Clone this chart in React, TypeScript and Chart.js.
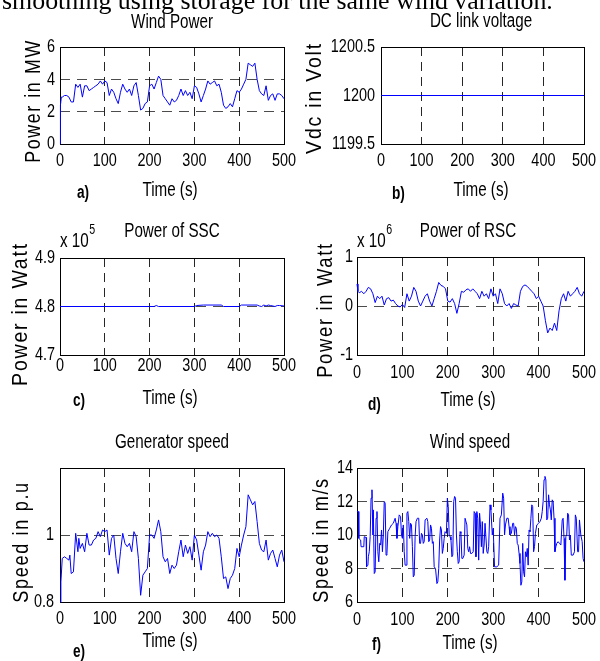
import React, { useEffect, useRef } from 'react';
import { Chart, registerables } from 'chart.js';
Chart.register(...registerables);

const W = 600;
const H = 661;
const SX = 0.76;
const SANS = '"Liberation Sans", Arial, Helvetica, sans-serif';
const SERIF = '"Liberation Serif", "Times New Roman", serif';

// ---------- data ----------
const X_TICKS = [0, 100, 200, 300, 400, 500];

const windPowerT = [0, 1, 3, 5, 10, 15, 20, 25, 30, 35, 40, 45, 50, 55, 60, 65, 70, 75, 80, 85, 90, 95, 100, 105, 110, 115, 120, 125, 130, 135, 140, 145, 150, 155, 160, 165, 170, 175, 180, 185, 190, 195, 200, 205, 210, 215, 220, 225, 230, 235, 240, 245, 250, 255, 260, 265, 270, 275, 280, 285, 290, 295, 300, 305, 310, 315, 320, 325, 330, 335, 340, 345, 350, 355, 360, 365, 370, 375, 380, 385, 390, 395, 400, 405, 410, 415, 420, 425, 430, 435, 440, 445, 450, 455, 460, 465, 470, 475, 480, 485, 490, 495, 500];
const windPowerMW = [0, 2.4, 2.9, 2.9, 3.0, 3.0, 2.9, 2.6, 2.6, 3.7, 3.5, 3.7, 2.9, 3.6, 3.6, 3.3, 3.4, 3.5, 3.6, 3.7, 3.9, 3.7, 3.9, 3.8, 3.0, 3.4, 3.2, 2.8, 2.5, 3.2, 3.7, 3.4, 3.2, 3.4, 3.0, 3.6, 3.8, 3.0, 2.1, 2.2, 2.5, 2.6, 3.6, 3.7, 3.4, 3.8, 4.2, 4.0, 3.0, 2.8, 2.6, 2.4, 2.8, 2.6, 2.7, 3.0, 3.4, 3.0, 3.3, 3.0, 3.2, 2.8, 3.6, 3.5, 3.1, 2.6, 3.0, 3.4, 3.9, 3.7, 3.8, 3.9, 3.6, 3.7, 3.2, 2.4, 2.2, 2.3, 2.5, 2.3, 2.8, 3.3, 3.2, 3.4, 3.7, 4.0, 5.0, 4.9, 4.8, 5.0, 4.0, 3.3, 3.1, 3.0, 3.6, 2.7, 3.0, 3.1, 2.7, 3.1, 3.1, 3.0, 2.8];

const dcLinkT = [0, 500];
const dcLinkV = [1200, 1200];

const sscT = [0, 100, 200, 210, 215, 220, 300, 305, 320, 360, 365, 400, 405, 440, 445, 450, 455, 460, 465, 470, 480, 485, 490, 500];
const sscW = [4.8, 4.8, 4.8, 4.8, 4.802, 4.8, 4.8, 4.802, 4.803, 4.803, 4.8, 4.8, 4.803, 4.803, 4.801, 4.8, 4.803, 4.801, 4.803, 4.802, 4.8, 4.802, 4.802, 4.801];

const rscT = [0, 2, 5, 10, 15, 20, 25, 30, 35, 40, 45, 50, 55, 60, 65, 70, 75, 80, 85, 90, 95, 100, 105, 110, 115, 120, 125, 130, 135, 140, 145, 150, 155, 160, 165, 170, 175, 180, 185, 190, 195, 200, 205, 210, 215, 220, 225, 230, 235, 240, 245, 250, 255, 260, 265, 270, 275, 280, 285, 290, 295, 300, 305, 310, 315, 320, 325, 330, 335, 340, 345, 350, 355, 360, 365, 370, 375, 380, 385, 390, 395, 400, 405, 410, 415, 420, 425, 430, 435, 440, 445, 450, 455, 460, 465, 470, 475, 480, 485, 490, 495, 500];
const rscW = [0.45, 0.3, 0.27, 0.3, 0.25, 0.3, 0.38, 0.35, 0.25, 0.07, 0.2, 0.15, 0.2, 0.02, 0.15, 0.17, 0.1, 0.12, 0.05, 0.0, -0.02, 0.03, -0.03, 0.25, 0.1, 0.2, 0.38, 0.3, 0.1, 0.0, 0.1, 0.2, 0.25, 0.1, 0.0, 0.15, 0.3, 0.48, 0.42, 0.4, 0.35, 0.1, 0.08, 0.15, 0.05, -0.15, 0.05, 0.3, 0.28, 0.33, 0.35, 0.3, 0.35, 0.3, 0.25, 0.15, 0.3, 0.2, 0.25, 0.15, 0.35, 0.2, 0.25, 0.05, 0.35, 0.25, 0.05, 0.0, 0.05, -0.05, 0.05, 0.02, 0.0, 0.3, 0.4, 0.43, 0.4, 0.35, 0.3, 0.25, 0.15, 0.2, 0.1, 0.0, -0.3, -0.55, -0.45, -0.5, -0.35, -0.5, -0.1, 0.15, 0.25, 0.1, 0.3, 0.2, 0.25, 0.3, 0.38, 0.25, 0.2, 0.3];

const genSpeedT = [0, 2, 5, 10, 15, 20, 22, 25, 30, 35, 40, 42, 45, 50, 55, 60, 65, 70, 75, 80, 85, 90, 95, 100, 105, 110, 115, 120, 125, 130, 135, 140, 145, 150, 155, 160, 165, 170, 175, 180, 185, 190, 195, 200, 205, 210, 215, 220, 225, 230, 235, 240, 245, 250, 255, 260, 265, 270, 275, 280, 285, 290, 295, 300, 305, 310, 315, 320, 325, 330, 335, 340, 345, 350, 355, 360, 365, 370, 375, 380, 385, 390, 395, 400, 405, 410, 415, 420, 425, 430, 435, 440, 445, 450, 455, 460, 465, 470, 475, 480, 485, 490, 495, 500];
const genSpeedPu = [0.8, 0.86, 0.93, 0.935, 0.93, 0.925, 0.94, 0.885, 0.89, 1.005, 0.95, 0.99, 0.96, 0.975, 0.95, 1.005, 0.97, 0.97, 0.985, 0.99, 1.01, 0.995, 1.015, 1.01, 1.015, 0.94, 0.99, 1.0, 0.93, 0.885, 0.95, 1.005, 0.975, 0.965, 0.975, 0.95, 1.01, 0.995, 0.93, 0.82, 0.88, 0.89, 0.9, 1.0, 1.0, 0.99, 1.015, 1.045, 1.01, 0.935, 0.92, 0.93, 0.885, 0.91, 0.9, 0.91, 0.95, 0.985, 0.935, 0.97, 0.945, 0.965, 0.925, 1.0, 0.985, 0.94, 0.895, 0.95, 0.97, 1.01, 0.995, 1.005, 0.995, 1.0, 0.99, 0.935, 0.87, 0.875, 0.84, 0.87, 0.88, 0.9, 0.96, 0.935, 0.97, 1.0, 1.025, 1.12, 1.105, 1.09, 1.1, 1.04, 0.975, 0.955, 0.95, 0.985, 0.925, 0.945, 0.955, 0.93, 0.905, 0.94, 0.955, 0.92];

const windSpeedT = [0, 3, 4, 8, 9, 15, 16, 20, 21, 24, 25, 27, 29, 31, 33, 35, 36, 38, 40, 42, 44, 46, 48, 50, 52, 54, 56, 58, 60, 62, 64, 66, 68, 72, 76, 80, 84, 86, 88, 90, 93, 96, 98, 100, 102, 104, 106, 108, 110, 112, 114, 116, 118, 120, 122, 124, 126, 128, 130, 133, 136, 138, 140, 142, 144, 146, 148, 150, 154, 156, 158, 160, 162, 164, 166, 168, 170, 173, 176, 178, 180, 182, 184, 186, 188, 190, 192, 194, 197, 199, 201, 203, 205, 207, 209, 211, 213, 215, 217, 219, 221, 223, 225, 227, 229, 231, 233, 236, 238, 240, 242, 244, 246, 248, 250, 253, 256, 258, 260, 262, 264, 266, 268, 270, 272, 274, 276, 278, 280, 282, 284, 286, 288, 290, 293, 295, 298, 300, 303, 308, 312, 315, 318, 321, 323, 325, 327, 330, 333, 335, 337, 340, 343, 345, 347, 349, 351, 353, 355, 357, 359, 361, 363, 365, 367, 369, 371, 373, 375, 377, 379, 381, 383, 385, 387, 389, 391, 393, 396, 400, 403, 406, 408, 410, 412, 414, 416, 418, 420, 422, 424, 426, 428, 430, 432, 434, 436, 438, 440, 443, 446, 449, 452, 454, 456, 458, 460, 462, 464, 466, 468, 470, 472, 476, 479, 481, 483, 486, 488, 490, 493, 496, 498, 500];
const windSpeedMs = [11.4, 11.4, 9.8, 9.7, 9.3, 9.3, 9.9, 9.85, 8.1, 8.2, 8.7, 9.0, 9.9, 12.2, 12.7, 10.0, 11.5, 7.7, 7.8, 11.0, 11.4, 9.0, 8.4, 9.5, 9.4, 10.3, 9.0, 10.0, 12.0, 11.9, 8.8, 8.9, 10.2, 10.4, 10.6, 10.7, 11.0, 10.7, 9.8, 10.5, 11.2, 11.1, 10.0, 9.8, 10.6, 9.0, 8.2, 8.2, 11.3, 11.4, 10.8, 9.8, 10.7, 10.6, 9.3, 7.5, 7.6, 9.9, 10.8, 11.0, 11.0, 9.5, 9.5, 10.1, 10.0, 9.5, 9.6, 10.9, 11.0, 10.8, 9.6, 9.7, 10.6, 10.4, 9.5, 9.6, 8.1, 8.0, 7.1, 7.2, 8.0, 9.7, 10.5, 10.3, 8.9, 9.2, 9.8, 10.2, 10.1, 12.2, 11.7, 10.0, 9.9, 9.7, 8.7, 8.8, 12.0, 12.3, 12.2, 10.0, 9.0, 8.3, 8.4, 10.2, 10.1, 8.6, 8.6, 8.8, 11.0, 11.0, 10.6, 9.2, 9.0, 9.3, 8.9, 8.9, 9.0, 11.4, 11.3, 8.7, 11.4, 11.0, 8.5, 11.3, 10.6, 9.3, 10.8, 8.9, 9.4, 10.7, 10.7, 9.0, 8.9, 9.3, 11.8, 11.5, 10.0, 10.4, 8.1, 8.1, 8.2, 11.0, 11.2, 12.5, 12.2, 10.0, 10.6, 11.0, 11.0, 10.5, 10.0, 10.1, 10.7, 10.7, 10.0, 10.5, 10.4, 9.5, 9.4, 8.9, 8.3, 7.0, 7.2, 9.5, 7.8, 7.5, 9.0, 8.7, 9.2, 8.2, 10.3, 10.2, 11.0, 11.8, 11.7, 9.0, 9.3, 10.1, 10.6, 10.7, 10.8, 11.0, 11.4, 12.0, 13.3, 13.5, 13.3, 10.9, 11.0, 12.4, 11.8, 11.5, 10.9, 12.1, 12.0, 11.0, 9.0, 9.3, 9.5, 9.6, 9.5, 9.4, 10.9, 11.0, 9.8, 7.3, 9.9, 10.0, 11.3, 11.2, 9.7, 10.0, 8.8, 8.8, 9.0, 11.2, 11.0, 9.0, 9.0, 10.9, 10.0, 9.6, 8.6, 8.4];

// ---------- panel layout ----------
type Panel = {
  key: string;
  box: [number, number, number, number];
  xs: number[];
  ys: number[];
  yMin: number;
  yMax: number;
  yTicks: number[];
  yLabels: string[];
  yPad: number;
  xPad: number;
  title: string;
  titlePos: [number, number];
  yTitle: string;
  yTitlePos: [number, number];
  yTitleLen: number;
  xTitlePos: [number, number];
  tag: string;
  tagPos: [number, number];
  exp?: [number, number, string];
  sentence?: boolean;
  hideGridAt?: number;
};

const PANELS: Panel[] = [
  {
    key: 'a', box: [60, 47, 284, 144], xs: windPowerT, ys: windPowerMW,
    yMin: 0, yMax: 6, yTicks: [0, 2, 4, 6], yLabels: ['0', '2', '4', '6'], yPad: 5, xPad: 7,
    title: 'Wind Power', titlePos: [172, 28], yTitle: 'Power in MW', yTitlePos: [32, 101], yTitleLen: 122,
    xTitlePos: [170, 196], tag: 'a)', tagPos: [77, 198], sentence: true,
  },
  {
    key: 'b', box: [381, 47, 584, 144], xs: dcLinkT, ys: dcLinkV,
    yMin: 1199.5, yMax: 1200.5, yTicks: [1199.5, 1200, 1200.5], yLabels: ['1199.5', '1200', '1200.5'], yPad: 6, xPad: 7,
    title: 'DC link voltage', titlePos: [481, 27], yTitle: 'Vdc in Volt', yTitlePos: [313, 98], yTitleLen: 110,
    xTitlePos: [481, 196], tag: 'b)', tagPos: [392, 199], hideGridAt: 1200,
  },
  {
    key: 'c', box: [60, 258, 284, 355], xs: sscT, ys: sscW,
    yMin: 4.7, yMax: 4.9, yTicks: [4.7, 4.8, 4.9], yLabels: ['4.7', '4.8', '4.9'], yPad: 5, xPad: 1,
    title: 'Power of SSC', titlePos: [172, 237], yTitle: 'Power in Watt', yTitlePos: [19, 314], yTitleLen: 142,
    xTitlePos: [170, 404], tag: 'c)', tagPos: [73, 406], exp: [60, 247, '5'],
  },
  {
    key: 'd', box: [357, 257, 584, 355], xs: rscT, ys: rscW,
    yMin: -1, yMax: 1, yTicks: [-1, 0, 1], yLabels: ['-1', '0', '1'], yPad: 4, xPad: 8,
    title: 'Power of RSC', titlePos: [468, 237], yTitle: 'Power in Watt', yTitlePos: [324, 310], yTitleLen: 134,
    xTitlePos: [468, 406], tag: 'd)', tagPos: [368, 410], exp: [357, 247, '6'],
  },
  {
    key: 'e', box: [60, 468, 284, 602], xs: genSpeedT, ys: genSpeedPu,
    yMin: 0.8, yMax: 1.2, yTicks: [0.8, 1], yLabels: ['0.8', '1'], yPad: 6, xPad: 7,
    title: 'Generator speed', titlePos: [172, 448], yTitle: 'Speed in p.u', yTitlePos: [20, 542], yTitleLen: 120,
    xTitlePos: [170, 647], tag: 'e)', tagPos: [73, 657],
  },
  {
    key: 'f', box: [357, 468, 584, 602], xs: windSpeedT, ys: windSpeedMs,
    yMin: 6, yMax: 14, yTicks: [6, 8, 10, 12, 14], yLabels: ['6', '8', '10', '12', '14'], yPad: 4, xPad: 8,
    title: 'Wind speed', titlePos: [470, 448], yTitle: 'Speed in m/s', yTitlePos: [320, 540], yTitleLen: 124,
    xTitlePos: [470, 649], tag: 'f)', tagPos: [372, 650],
  },
];

function drawText(
  ctx: CanvasRenderingContext2D, fill: any, s: string, x: number, y: number,
  font: string, align: CanvasTextAlign, sx = SX, rot = 0, ls = 0,
) {
  ctx.save();
  ctx.translate(x, y);
  if (rot) ctx.rotate(rot);
  ctx.scale(sx, 1);
  ctx.font = font;
  ctx.textAlign = align;
  ctx.textBaseline = 'alphabetic';
  ctx.fillStyle = '#000';
  (ctx as any).letterSpacing = ls + 'px';
  fill.call(ctx, s, 0, 0);
  (ctx as any).letterSpacing = '0px';
  ctx.restore();
}

function decoPlugin(p: Panel) {
  return {
    id: 'deco',
    beforeDraw(chart: any) {
      const ctx = chart.ctx as any;
      if (!ctx.__origFill) {
        const orig = ctx.fillText;
        ctx.__origFill = orig;
        ctx.fillText = function (text: string, x: number, y: number) {
          this.save();
          this.translate(x, y);
          this.scale(SX, 1);
          orig.call(this, text, 0, 0);
          this.restore();
        };
      }
    },
    beforeDatasetsDraw(chart: any) {
      const ctx = chart.ctx as CanvasRenderingContext2D;
      const a = chart.chartArea;
      ctx.save();
      ctx.strokeStyle = '#000';
      ctx.lineWidth = 1;
      ctx.setLineDash([]);
      ctx.strokeRect(Math.round(a.left) + 0.5, Math.round(a.top) + 0.5, Math.round(a.right - a.left), Math.round(a.bottom - a.top));
      ctx.restore();
    },
    afterDraw(chart: any) {
      const ctx = chart.ctx as any;
      const fill = ctx.__origFill || ctx.fillText;
      if (ctx.__origFill) {
        ctx.fillText = ctx.__origFill;
        delete ctx.__origFill;
      }
      const f20 = `20px ${SANS}`;
      drawText(ctx, fill, p.title, p.titlePos[0], p.titlePos[1], f20, 'center');
      drawText(ctx, fill, 'Time (s)', p.xTitlePos[0], p.xTitlePos[1], f20, 'center');
      drawText(ctx, fill, p.tag, p.tagPos[0], p.tagPos[1], `bold 18px ${SANS}`, 'left');
      // y title
      const yf = `22px ${SANS}`;
      ctx.save();
      ctx.font = yf;
      const ls = 2;
      const w = ctx.measureText(p.yTitle).width + ls * (p.yTitle.length - 1);
      ctx.restore();
      const ysx = p.yTitleLen / w;
      drawText(ctx, fill, p.yTitle, p.yTitlePos[0] + 8, p.yTitlePos[1], yf, 'center', ysx, -Math.PI / 2, ls);
      if (p.exp) {
        const [ex, ey, e] = p.exp;
        ctx.save();
        ctx.font = f20;
        const bw = ctx.measureText('x 10').width * SX;
        ctx.restore();
        drawText(ctx, fill, 'x 10', ex, ey, f20, 'left');
        drawText(ctx, fill, e, ex + bw + 0.5, ey - 13, `14px ${SANS}`, 'left');
      }
      if (p.sentence) {
        const s = 'smoothing using storage for the same wind variation.';
        ctx.save();
        ctx.font = `24px ${SERIF}`;
        const sw = ctx.measureText(s).width;
        ctx.restore();
        const fs = (24 * 551) / sw;
        drawText(ctx, fill, s, 2, 9, `${fs.toFixed(2)}px ${SERIF}`, 'left', 1);
      }
    },
  };
}

function buildConfig(p: Panel): any {
  const [l, t, r, b] = p.box;
  const yW = 50;
  const xH = 40;
  const tickFont = { family: SANS, size: 19, lineHeight: 1 };
  return {
    type: 'line',
    data: {
      datasets: [{
        data: p.xs.map((x, i) => ({ x, y: p.ys[i] })),
        borderColor: '#0000ff',
        borderWidth: 1,
        pointRadius: 0,
        tension: 0,
        fill: false,
        clip: 2,
      }],
    },
    options: {
      animation: false,
      responsive: false,
      maintainAspectRatio: false,
      devicePixelRatio: 1,
      events: [],
      layout: { padding: { left: l - yW, top: t, right: W - r, bottom: H - b - xH } },
      plugins: { legend: { display: false }, tooltip: { enabled: false }, title: { display: false } },
      scales: {
        x: {
          type: 'linear', position: 'bottom', min: 0, max: 500,
          afterBuildTicks: (s: any) => { s.ticks = X_TICKS.map((v) => ({ value: v })); },
          afterFit: (s: any) => { s.height = xH; s.paddingLeft = 0; s.paddingRight = 0; },
          ticks: { font: tickFont, color: '#000', padding: p.xPad, maxRotation: 0, minRotation: 0, autoSkip: false, callback: (v: any) => String(v) },
          grid: { color: 'rgba(0,0,0,0.85)', lineWidth: 1, drawTicks: false },
          border: { display: false, dash: [9, 6] },
        },
        y: {
          type: 'linear', position: 'left', min: p.yMin, max: p.yMax,
          afterBuildTicks: (s: any) => { s.ticks = p.yTicks.map((v) => ({ value: v })); },
          afterFit: (s: any) => { s.width = yW; s.paddingTop = 0; s.paddingBottom = 0; },
          ticks: { font: tickFont, color: '#000', padding: p.yPad, autoSkip: false, callback: (_v: any, i: number) => p.yLabels[i] },
          grid: {
            color: (c: any) => (p.hideGridAt !== undefined && c.tick && c.tick.value === p.hideGridAt ? 'rgba(0,0,0,0)' : 'rgba(0,0,0,0.7)'),
            lineWidth: 1,
            drawTicks: false,
          },
          border: { display: false, dash: [10, 7] },
        },
      },
    },
    plugins: [decoPlugin(p)],
  };
}

export default function App() {
  const refs = useRef<(HTMLCanvasElement | null)[]>([]);
  useEffect(() => {
    const charts = PANELS.map((p, i) => new Chart(refs.current[i] as HTMLCanvasElement, buildConfig(p)));
    return () => charts.forEach((c) => c.destroy());
  }, []);
  return (
    <div style={{ position: 'absolute', left: 0, top: 0, width: W, height: H, background: '#fff', overflow: 'hidden' }}>
      {PANELS.map((p, i) => (
        <canvas
          key={p.key}
          ref={(el) => { refs.current[i] = el; }}
          width={W}
          height={H}
          style={{ position: 'absolute', left: 0, top: 0, width: W, height: H }}
        />
      ))}
    </div>
  );
}
